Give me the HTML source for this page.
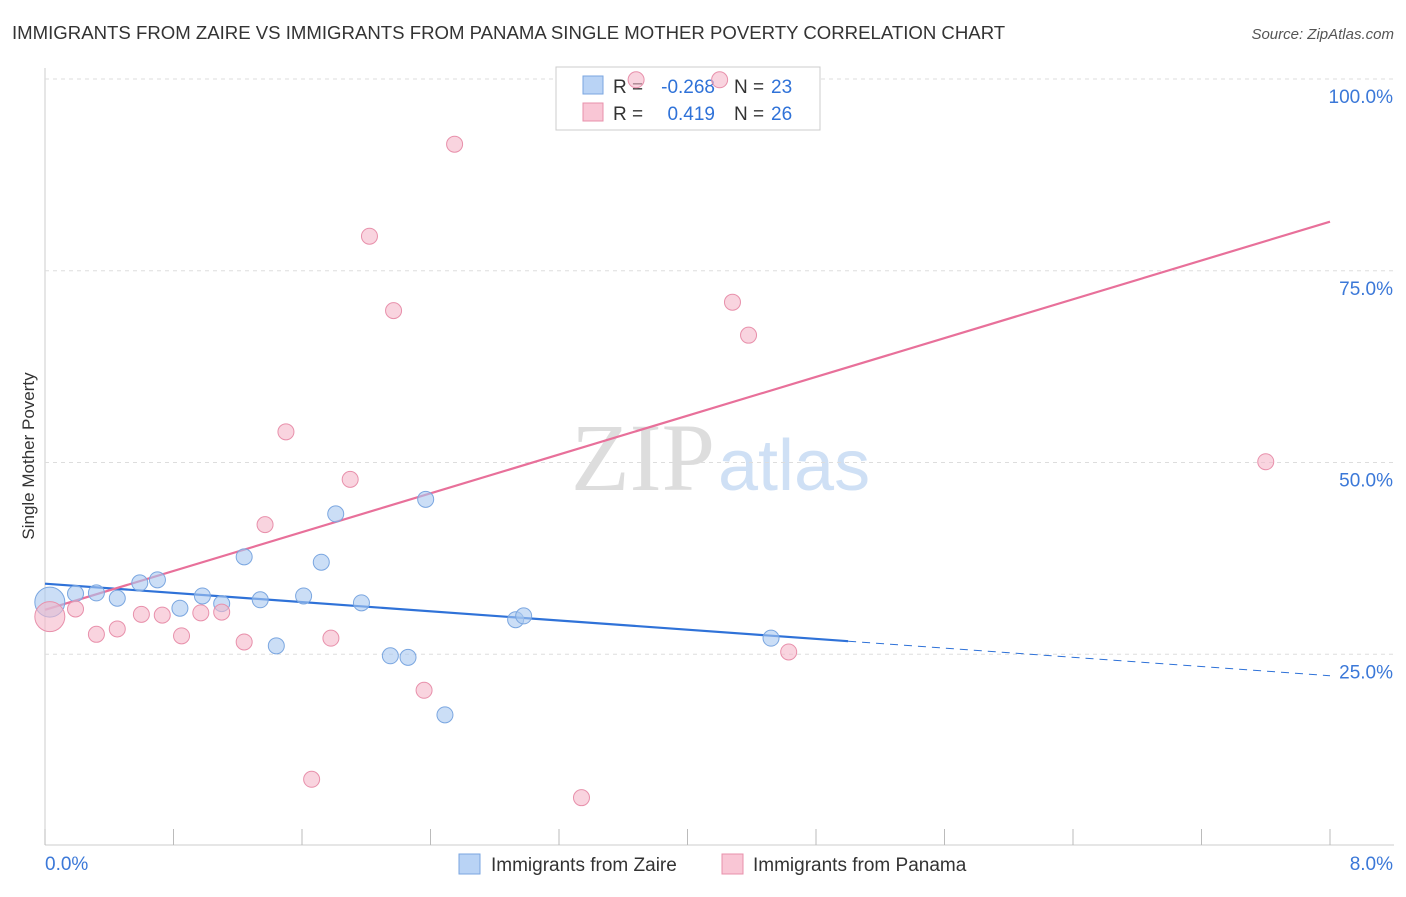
<!DOCTYPE html>
<html><head><meta charset="utf-8"><style>
body{margin:0;background:#fff;font-family:"Liberation Sans",sans-serif;}
svg text{font-family:"Liberation Sans",sans-serif;}
</style></head><body>
<svg id="c" width="1406" height="892">
<text x="12" y="39" font-size="18.6" fill="#333">IMMIGRANTS FROM ZAIRE VS IMMIGRANTS FROM PANAMA SINGLE MOTHER POVERTY CORRELATION CHART</text>
<text x="1394" y="39" font-size="15" fill="#555" text-anchor="end" font-style="italic">Source: ZipAtlas.com</text>
<text x="34" y="456" font-size="17" fill="#333" text-anchor="middle" transform="rotate(-90 34 456)">Single Mother Poverty</text>
<text x="715" y="490" font-size="96" fill="#ddd" text-anchor="end" style="font-family:'Liberation Serif',serif">ZIP</text>
<text x="718" y="490" font-size="72" fill="#cfe0f5">atlas</text>
<g id="grid"></g><g id="lines"></g>
<g>
<rect x="556" y="67" width="264" height="63" fill="#fff" stroke="#ccc"/>
<rect x="583" y="76" width="20" height="18" fill="#b9d3f5" stroke="#7aa6e0"/>
<text x="613" y="93" font-size="19" fill="#333">R =</text>
<text x="715" y="93" font-size="19" fill="#2f72d8" text-anchor="end">-0.268</text>
<text x="734" y="93" font-size="19" fill="#333">N =</text>
<text x="771" y="93" font-size="19" fill="#2f72d8">23</text>
<rect x="583" y="103" width="20" height="18" fill="#f9c6d5" stroke="#e890ab"/>
<text x="613" y="120" font-size="19" fill="#333">R =</text>
<text x="715" y="120" font-size="19" fill="#2f72d8" text-anchor="end">0.419</text>
<text x="734" y="120" font-size="19" fill="#333">N =</text>
<text x="771" y="120" font-size="19" fill="#2f72d8">26</text>
</g>
<g id="pts"></g>
<g>
<rect x="459" y="854" width="21" height="20" fill="#b9d3f5" stroke="#7aa6e0"/>
<text x="491" y="871" font-size="19" fill="#333">Immigrants from Zaire</text>
<rect x="722" y="854" width="21" height="20" fill="#f9c6d5" stroke="#e890ab"/>
<text x="753" y="871" font-size="19" fill="#333">Immigrants from Panama</text>
</g>
</svg>
<script>
const xTicks=[0,1,2,3,4,5,6,7,8];
const yTicks=[25,50,75,100];
const zaireX=[0.03,0.19,0.32,0.45,0.59,0.70,0.84,0.98,1.10,1.24,1.34,1.44,1.61,1.72,1.81,1.97,2.15,2.26,2.37,2.49,2.93,2.98,4.52];
const zaireY=[31.8,32.9,33.0,32.3,34.3,34.7,31.0,32.6,31.6,37.7,32.1,26.1,32.6,37.0,43.3,31.7,24.8,24.6,45.2,17.1,29.5,30.0,27.1];
const panamaX=[0.03,0.19,0.32,0.45,0.60,0.73,0.85,0.97,1.10,1.24,1.37,1.50,1.66,1.78,1.90,2.02,2.17,2.36,2.55,3.34,3.68,4.20,4.28,4.38,4.63,7.60];
const panamaY=[29.9,30.9,27.6,28.3,30.2,30.1,27.4,30.4,30.5,26.6,41.9,54.0,8.7,27.1,47.8,79.5,69.8,20.3,91.5,6.3,99.9,99.9,70.9,66.6,25.3,50.1];
const zaireLine=[34.2,22.2];
const panamaLine=[30.8,81.4];
const NS="http://www.w3.org/2000/svg";
const X=v=>45+v/8*1285, Y=v=>846-v*7.67;
function mk(t,a,p){const e=document.createElementNS(NS,t);for(const k in a)e.setAttribute(k,a[k]);p.appendChild(e);return e;}
const g=document.getElementById('grid');
mk('line',{x1:45,y1:68,x2:45,y2:845,stroke:'#ccc'},g);
mk('line',{x1:45,y1:845,x2:1394,y2:845,stroke:'#ccc'},g);
yTicks.forEach(v=>{const l=mk('line',{x1:45,y1:Y(v),x2:1394,y2:Y(v),stroke:'#ddd','stroke-dasharray':'4,4'},g);


const t=mk('text',{x:1393,y:Y(v)+24,'font-size':19,fill:'#3b78d8','text-anchor':'end'},g);t.textContent=v.toFixed(1)+'%';

});
for(let i=0;i<=10;i++){const l=mk('line',{x1:45+i*128.5,y1:829,x2:45+i*128.5,y2:845,stroke:'#bbb'},g);

}
[[0,'start',45],[8,'end',1393]].forEach(([v,a,x])=>{const t=mk('text',{x:x,y:870,'font-size':19,fill:'#3b78d8','text-anchor':a},g);t.textContent=v.toFixed(1)+'%';

});
const L=document.getElementById('lines');
const bAt=x=>zaireLine[0]+(zaireLine[1]-zaireLine[0])*x/8;
let l1=mk('line',{x1:X(0),y1:Y(bAt(0)),x2:X(5),y2:Y(bAt(5)),stroke:'#2f72d8','stroke-width':2.2},L);


let l2=mk('line',{x1:X(5),y1:Y(bAt(5)),x2:X(8),y2:Y(bAt(8)),stroke:'#2f72d8','stroke-width':1,'stroke-dasharray':'8,6'},L);


let l3=mk('line',{x1:X(0),y1:Y(panamaLine[0]),x2:X(8),y2:Y(panamaLine[1]),stroke:'#e8709a','stroke-width':2.2},L);


const P=document.getElementById('pts');
function pts(xs,ys,fill,stroke,name){xs.forEach((x,i)=>{const c=mk('circle',{cx:X(x),cy:Y(ys[i]),r:i==0?15:8,fill:fill,stroke:stroke,'fill-opacity':0.6},P);

});}
pts(zaireX,zaireY,'#a9c8f0','#7aa6e0','zaire-point');
pts(panamaX,panamaY,'#f5b8ca','#e890ab','panama-point');
</script>
</body></html>
